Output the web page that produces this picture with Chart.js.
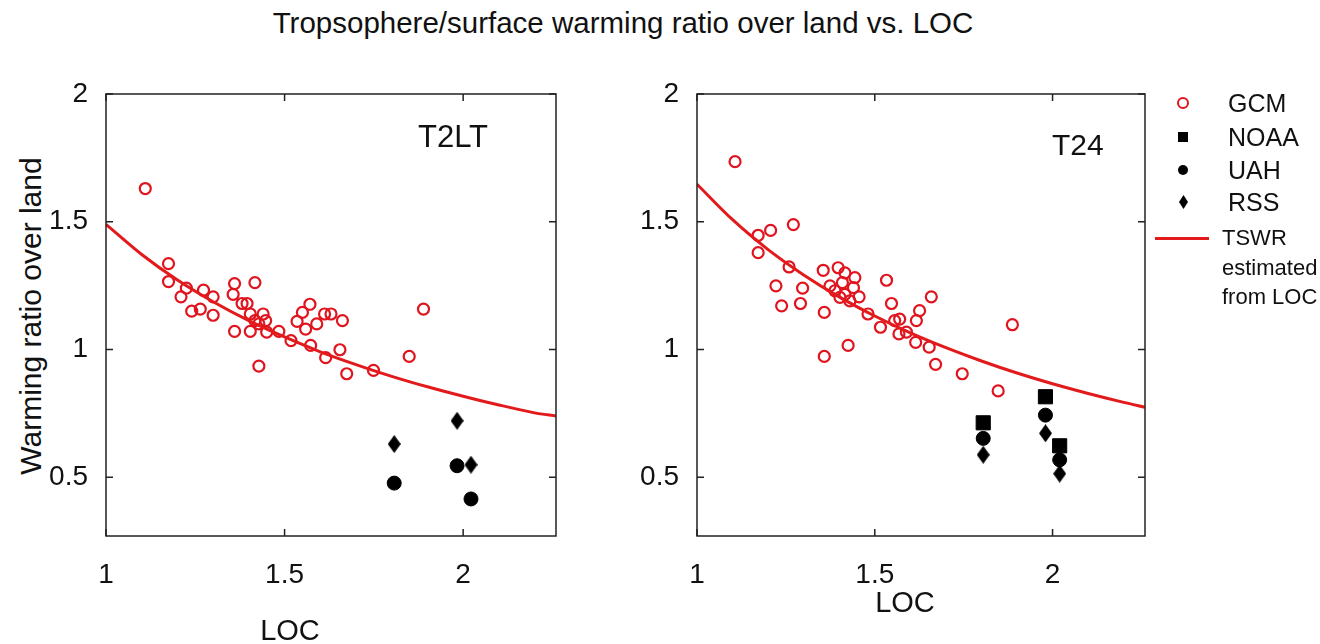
<!DOCTYPE html>
<html>
<head>
<meta charset="utf-8">
<script src="https://cdn.jsdelivr.net/npm/chart.js@4/dist/chart.umd.min.js"></script>
<style>
  body { margin: 0; background: #fff; font-family: "Liberation Sans", Arial, sans-serif; color: #111; }
  #wrap { position: relative; width: 1320px; height: 644px; overflow: hidden; }
  .cv { position: absolute; top: 0; }
  .txt { position: absolute; white-space: nowrap; line-height: 1; }
  .leg { position: absolute; font-size: 25px; line-height: 1; white-space: nowrap; }
  .mk { position: absolute; }
</style>
</head>
<body>
<div id="wrap">
  <div class="txt" style="left:0;width:1246px;text-align:center;top:8px;font-size:29.5px;">Tropsophere/surface warming ratio over land vs. LOC</div>
  <div class="txt" style="left:31px;top:316px;font-size:30px;transform:translate(-50%,-50%) rotate(-90deg);">Warming ratio over land</div>
  <div class="cv" style="left:0;width:580px;height:644px;"><canvas id="c1"></canvas></div>
  <div class="cv" style="left:600px;width:570px;height:644px;"><canvas id="c2"></canvas></div>
  <div class="txt" style="left:418px;top:121px;font-size:31px;">T2LT</div>
  <div class="txt" style="left:1052px;top:130px;font-size:30px;">T24</div>
  <div class="txt" style="left:290px;top:616px;font-size:29px;transform:translateX(-50%);">LOC</div>
  <div class="txt" style="left:905px;top:588px;font-size:29px;transform:translateX(-50%);">LOC</div>

  <div class="mk" style="left:1177px;top:97px;width:8px;height:8px;border:2.5px solid #e0141e;border-radius:50%;"></div>
  <div class="leg" style="left:1228px;top:91px;">GCM</div>
  <div class="mk" style="left:1178px;top:132px;width:10px;height:10px;background:#000;"></div>
  <div class="leg" style="left:1228px;top:125px;">NOAA</div>
  <div class="mk" style="left:1178px;top:165px;width:10px;height:10px;background:#000;border-radius:50%;"></div>
  <div class="leg" style="left:1228px;top:158px;">UAH</div>
  <div class="mk" style="left:1179px;top:195px;width:9px;height:14px;background:#000;clip-path:polygon(50% 0,100% 50%,50% 100%,0 50%);"></div>
  <div class="leg" style="left:1228px;top:190px;">RSS</div>
  <div class="mk" style="left:1155px;top:237px;width:54px;height:3px;background:#e31a1c;"></div>
  <div class="leg" style="left:1222px;top:227px;font-size:22px;">TSWR</div>
  <div class="leg" style="left:1222px;top:257px;font-size:22px;">estimated</div>
  <div class="leg" style="left:1222px;top:286px;font-size:22px;">from LOC</div>
</div>
<script>
// T2LT panel
const gcmLocT2LT = [1.11, 1.175, 1.175, 1.21, 1.225, 1.24, 1.264, 1.273, 1.30, 1.30, 1.36, 1.356, 1.36, 1.417, 1.381, 1.395, 1.404, 1.404, 1.417, 1.428, 1.44, 1.447, 1.45, 1.428, 1.484, 1.518, 1.535, 1.55, 1.571, 1.559, 1.573, 1.59, 1.612, 1.63, 1.662, 1.615, 1.655, 1.674, 1.749, 1.849, 1.889];
const gcmRatioT2LT = [1.63, 1.336, 1.266, 1.206, 1.24, 1.15, 1.158, 1.232, 1.206, 1.134, 1.258, 1.216, 1.071, 1.262, 1.18, 1.18, 1.139, 1.071, 1.113, 1.10, 1.139, 1.113, 1.068, 0.935, 1.071, 1.035, 1.11, 1.145, 1.177, 1.08, 1.016, 1.10, 1.139, 1.139, 1.113, 0.968, 0.999, 0.905, 0.918, 0.973, 1.158];
const obsLocT2LT = [1.807, 1.983, 2.022];
const uahT2LT = [0.477, 0.545, 0.415];
const rssT2LT = [0.63, 0.721, 0.549];
const fitLoc = [1.0, 1.1, 1.2, 1.3, 1.4, 1.5, 1.6, 1.7, 1.8, 1.9, 2.0, 2.1, 2.2, 2.26];
const fitT2LT = [1.49, 1.372, 1.272, 1.187, 1.113, 1.049, 0.991, 0.941, 0.895, 0.854, 0.817, 0.783, 0.752, 0.74];

// T24 panel
const gcmLocT24 = [1.107, 1.172, 1.207, 1.271, 1.172, 1.259, 1.355, 1.397, 1.416, 1.444, 1.533, 1.222, 1.297, 1.238, 1.291, 1.358, 1.374, 1.388, 1.402, 1.409, 1.416, 1.44, 1.43, 1.456, 1.481, 1.516, 1.547, 1.556, 1.57, 1.568, 1.589, 1.615, 1.617, 1.626, 1.653, 1.659, 1.671, 1.358, 1.425, 1.746, 1.847, 1.887];
const gcmRatioT24 = [1.735, 1.447, 1.466, 1.489, 1.379, 1.323, 1.31, 1.32, 1.30, 1.281, 1.271, 1.249, 1.24, 1.171, 1.18, 1.145, 1.249, 1.23, 1.204, 1.262, 1.216, 1.242, 1.19, 1.206, 1.139, 1.087, 1.18, 1.113, 1.119, 1.061, 1.068, 1.028, 1.113, 1.152, 1.009, 1.206, 0.942, 0.973, 1.016, 0.905, 0.838, 1.097];
const obsLocT24 = [1.805, 1.98, 2.02];
const noaaT24 = [0.713, 0.815, 0.623];
const uahT24 = [0.652, 0.743, 0.568];
const rssT24 = [0.588, 0.672, 0.514];
const fitT24 = [1.647, 1.508, 1.391, 1.292, 1.206, 1.131, 1.065, 1.007, 0.955, 0.908, 0.866, 0.828, 0.793, 0.774];

const xTicks = [1, 1.5, 2];
const yTicks = [0.5, 1, 1.5, 2];

const RED = '#e0141e';
Chart.defaults.font.family = '"Liberation Sans", Arial, sans-serif';
Chart.defaults.font.size = 28;
Chart.defaults.color = '#111';

const pts = (xs, ys) => xs.map((x, i) => ({ x, y: ys[i] }));

// tall diamond marker used for RSS
const diamond = document.createElement('canvas');
diamond.width = 13; diamond.height = 18;
(() => {
    const g = diamond.getContext('2d');
    g.fillStyle = '#000';
    g.beginPath();
    g.moveTo(6.5, 0); g.lineTo(13, 9); g.lineTo(6.5, 18); g.lineTo(0, 9);
    g.closePath(); g.fill();
})();

// box frame with inward ticks on all four sides
const frame = {
    id: 'frame',
    afterDatasetsDraw(chart) {
        const { ctx, chartArea: a, scales } = chart;
        ctx.save();
        ctx.strokeStyle = '#222';
        ctx.lineWidth = 1.5;
        ctx.strokeRect(a.left, a.top, a.width, a.height);
        ctx.beginPath();
        xTicks.forEach(v => {
            const p = scales.x.getPixelForValue(v);
            ctx.moveTo(p, a.bottom); ctx.lineTo(p, a.bottom - 7);
            ctx.moveTo(p, a.top); ctx.lineTo(p, a.top + 7);
        });
        yTicks.forEach(v => {
            const p = scales.y.getPixelForValue(v);
            ctx.moveTo(a.left, p); ctx.lineTo(a.left + 7, p);
            ctx.moveTo(a.right, p); ctx.lineTo(a.right - 7, p);
        });
        ctx.stroke();
        ctx.restore();
    }
};

function makeChart(id, yWidth, rightPad, datasets) {
    return new Chart(document.getElementById(id), {
        type: 'scatter',
        data: { datasets },
        options: {
            responsive: true,
            maintainAspectRatio: false,
            animation: false,
            layout: { padding: { top: 94, right: rightPad, left: 0, bottom: 0 } },
            plugins: { legend: { display: false }, tooltip: { enabled: false } },
            scales: {
                x: {
                    type: 'linear', min: 1, max: 2.26,
                    grid: { display: false }, border: { display: false },
                    afterFit: s => { s.height = 108; },
                    afterBuildTicks: s => { s.ticks = xTicks.map(v => ({ value: v })); },
                    ticks: { padding: 14, maxRotation: 0, callback: v => String(v) }
                },
                y: {
                    type: 'linear', min: 0.27, max: 2,
                    grid: { display: false }, border: { display: false },
                    afterFit: s => { s.width = yWidth; },
                    afterBuildTicks: s => { s.ticks = yTicks.map(v => ({ value: v })); },
                    ticks: { padding: 10, callback: v => String(v) }
                }
            }
        },
        plugins: [frame]
    });
}

const gcmStyle = { pointStyle: 'circle', pointRadius: 5.5, pointBorderWidth: 2.2, pointBorderColor: RED, pointBackgroundColor: 'rgba(0,0,0,0)' };
const lineStyle = { type: 'line', showLine: true, borderColor: '#e31a1c', borderWidth: 3, pointRadius: 0, tension: 0.3, fill: false };

makeChart('c1', 106, 24, [
    { label: 'TSWR estimated from LOC', data: pts(fitLoc, fitT2LT), ...lineStyle },
    { label: 'GCM', data: pts(gcmLocT2LT, gcmRatioT2LT), ...gcmStyle },
    { label: 'UAH', data: pts(obsLocT2LT, uahT2LT), pointStyle: 'circle', pointRadius: 7, backgroundColor: '#000', borderColor: '#000' },
    { label: 'RSS', data: pts(obsLocT2LT, rssT2LT), pointStyle: diamond, pointRadius: 8 }
]);

makeChart('c2', 97, 25, [
    { label: 'TSWR estimated from LOC', data: pts(fitLoc, fitT24), ...lineStyle },
    { label: 'GCM', data: pts(gcmLocT24, gcmRatioT24), ...gcmStyle },
    { label: 'NOAA', data: pts(obsLocT24, noaaT24), pointStyle: 'rect', pointRadius: 10, backgroundColor: '#000', borderColor: '#000' },
    { label: 'UAH', data: pts(obsLocT24, uahT24), pointStyle: 'circle', pointRadius: 7, backgroundColor: '#000', borderColor: '#000' },
    { label: 'RSS', data: pts(obsLocT24, rssT24), pointStyle: diamond, pointRadius: 8 }
]);
</script>
</body>
</html>
